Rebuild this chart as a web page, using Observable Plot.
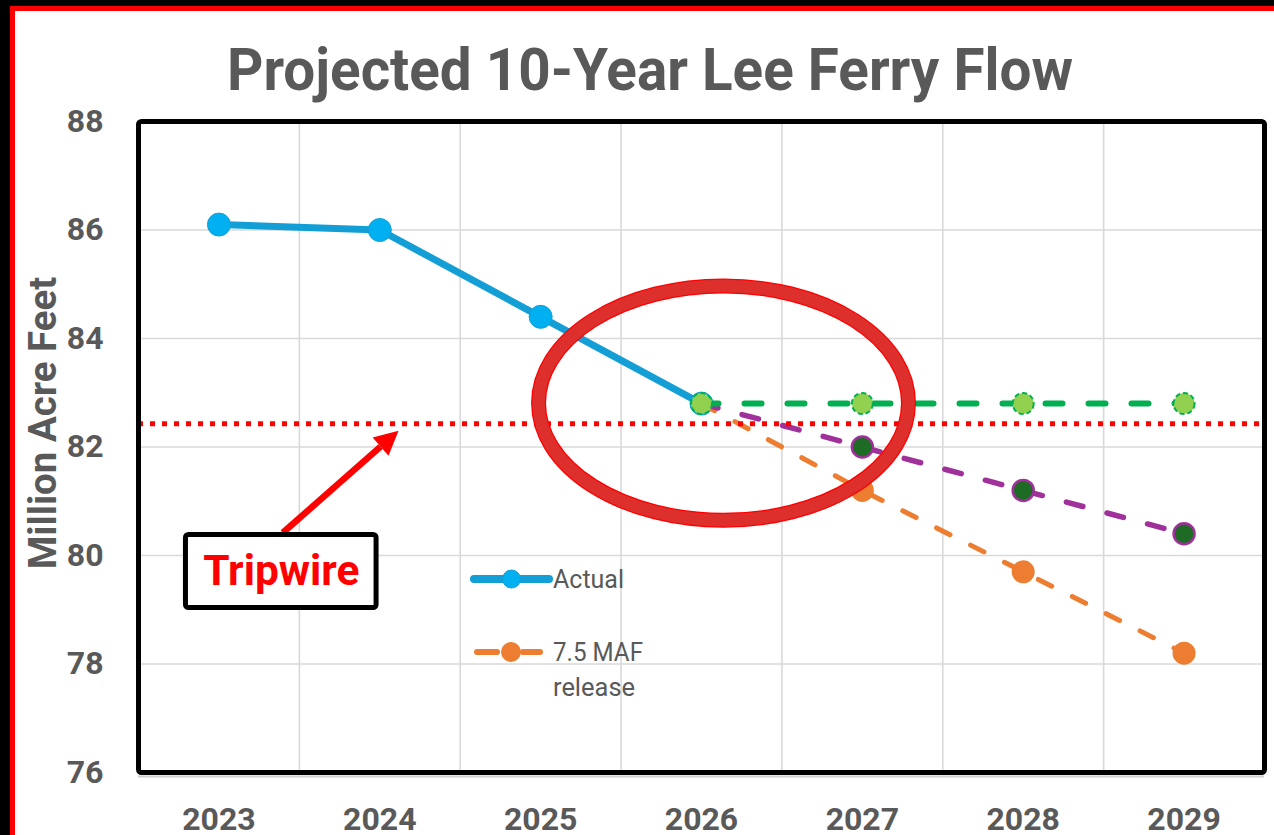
<!DOCTYPE html>
<html>
<head>
<meta charset="utf-8">
<script src="https://cdn.jsdelivr.net/npm/d3@7"></script>
<script src="https://cdn.jsdelivr.net/npm/@observablehq/plot@0.6"></script>
<style>
  html, body { margin: 0; padding: 0; background: #000; overflow: hidden; width: 1274px; height: 835px; }
  #page { position: absolute; left: 10px; top: 6px; width: 1300px; height: 900px; background: #fff;
          border-left: 5px solid #ff0000; border-top: 5px solid #ff0000; }
  #title { position: absolute; left: 0; top: 0; }
  #chart { position: absolute; left: 0; top: 100px; }
  #legend { position: absolute; left: 0; top: 0; pointer-events: none; }
  .lg { font-family: Roboto, sans-serif; font-size: 25px; fill: #595959; }
</style>
</head>
<body>
<div id="page"></div>
<svg id="title" width="1274" height="110">
  <text x="227" y="90" textLength="846" lengthAdjust="spacingAndGlyphs"
        style="font-family: Roboto, sans-serif; font-weight: 700; font-size: 60px; fill: #595959;">Projected 10-Year Lee Ferry Flow</text>
</svg>
<div id="chart"></div>
<svg id="legend" width="1274" height="835">
  <line x1="474" y1="579" x2="549" y2="579" stroke="#139fd6" stroke-width="8" stroke-linecap="round"/>
  <circle cx="511.5" cy="579" r="9" fill="#00b0f0" stroke="#139fd6" stroke-width="1"/>
  <text class="lg" x="553" y="579" dy="0.36em">Actual</text>
  <line x1="477" y1="652" x2="540" y2="652" stroke="#ed7d31" stroke-width="6" stroke-linecap="round" stroke-dasharray="20,26"/>
  <circle cx="511" cy="652" r="10" fill="#ed7d31"/>
  <text class="lg" x="553" y="652" dy="0.36em" textLength="90" lengthAdjust="spacingAndGlyphs">7.5 MAF</text>
  <text class="lg" x="553" y="687" dy="0.36em" textLength="82" lengthAdjust="spacingAndGlyphs">release</text>
</svg>
<script>
// ---- data ----
const years = [2023, 2024, 2025, 2026, 2027, 2028, 2029];
const yTicks = [76, 78, 80, 82, 84, 86, 88];
const gridYears = [2023.5, 2024.5, 2025.5, 2026.5, 2027.5, 2028.5];

const actualYears = [2023, 2024, 2025, 2026];
const actualValues = [86.1, 86.0, 84.4, 82.8];

const projYears = [2026, 2027, 2028, 2029];
const greenValues = [82.8, 82.8, 82.8, 82.8];
const purpleValues = [82.8, 82.0, 81.2, 80.4];
const orangeValues = [82.8, 81.2, 79.7, 78.2];

const tripwireValue = 82.43;

// annotation geometry in data units
const ellipseCenter = [2026.14, 82.80];
const ellipseRadii = [1.15, 2.16];
const arrowFrom = [2023.40, 80.41];
const arrowTo = [2024.12, 82.29];
const boxX = [2022.795, 2023.98];
const boxY = [79.032, 80.378];
const boxLabel = "Tripwire";
const yLabel = "Million Acre Feet";

// ---- tables ----
const actual = actualYears.map((x, i) => ({x, y: actualValues[i]}));
const green = projYears.map((x, i) => ({x, y: greenValues[i]}));
const purple = projYears.map((x, i) => ({x, y: purpleValues[i]}));
const orange = projYears.map((x, i) => ({x, y: orangeValues[i]}));

const grey = "#595959";

const ellipseMark = (index, scales) => {
  const g = d3.create("svg:g");
  const cx = scales.x(ellipseCenter[0]), cy = scales.y(ellipseCenter[1]);
  const rx = scales.x(ellipseCenter[0] + ellipseRadii[0]) - cx;
  const ry = cy - scales.y(ellipseCenter[1] + ellipseRadii[1]);
  g.append("ellipse").attr("cx", cx).attr("cy", cy).attr("rx", rx).attr("ry", ry)
    .attr("fill", "none").attr("stroke", "#ff0000").attr("stroke-width", 15);
  g.append("ellipse").attr("cx", cx).attr("cy", cy).attr("rx", rx).attr("ry", ry)
    .attr("fill", "none").attr("stroke", "#dd2f2c").attr("stroke-width", 12.5);
  return g.node();
};

const arrowMark = (index, scales) => {
  const g = d3.create("svg:g");
  const x1 = scales.x(arrowFrom[0]), y1 = scales.y(arrowFrom[1]);
  const x2 = scales.x(arrowTo[0]), y2 = scales.y(arrowTo[1]);
  const a = Math.atan2(y2 - y1, x2 - x1);
  const hl = 24, hw = 12;
  const bx = x2 - hl * Math.cos(a), by = y2 - hl * Math.sin(a);
  g.append("line").attr("x1", x1).attr("y1", y1).attr("x2", bx).attr("y2", by)
    .attr("stroke", "#ff0000").attr("stroke-width", 6.5);
  const px = -Math.sin(a), py = Math.cos(a);
  g.append("polygon")
    .attr("points", [[x2, y2], [bx + hw * px, by + hw * py], [bx - hw * px, by - hw * py]].map(p => p.join(",")).join(" "))
    .attr("fill", "#ff0000");
  return g.node();
};

const chart = Plot.plot({
  width: 1274,
  height: 735,
  marginLeft: 138,
  marginRight: 10,
  marginTop: 21,
  marginBottom: 63,
  style: {background: "transparent", color: grey, fontFamily: "Roboto, sans-serif", overflow: "visible"},
  x: {domain: [2022.5, 2029.5]},
  y: {domain: [76, 88]},
  marks: [
    Plot.gridY(yTicks, {stroke: "#d9d9d9", strokeOpacity: 1, strokeWidth: 1.6}),
    Plot.gridX(gridYears, {stroke: "#d9d9d9", strokeOpacity: 1, strokeWidth: 1.6}),
    Plot.ruleY([76], {dy: 4, stroke: "#d0d0d0", strokeWidth: 2}),
    Plot.axisY({ticks: yTicks, tickSize: 0, tickPadding: 35, fontSize: 32, fontWeight: "bold", label: null}),
    Plot.axisX({ticks: years, tickFormat: d => String(d), tickSize: 0, tickPadding: 35, fontSize: 32, fontWeight: "bold", label: null}),
    Plot.text([yLabel], {frameAnchor: "left", dx: -94.5, dy: -24, rotate: -90, fontSize: 38.5, fontWeight: "bold", fill: grey, textAnchor: "middle", lineAnchor: "middle"}),
    // Actual
    Plot.line(actual, {x: "x", y: "y", stroke: "#139fd6", strokeWidth: 7}),
    Plot.dot(actual, {x: "x", y: "y", r: 11.5, fill: "#00b0f0", stroke: "#139fd6", strokeWidth: 1}),
    // 7.5 MAF release
    Plot.line(orange, {x: "x", y: "y", stroke: "#ed7d31", strokeWidth: 5, strokeDasharray: "15,23", strokeLinecap: "round"}),
    Plot.dot(orange.slice(1), {x: "x", y: "y", r: 11.5, fill: "#ed7d31"}),
    // purple scenario
    Plot.line(purple, {x: "x", y: "y", stroke: "#a0309a", strokeWidth: 5.5, strokeDasharray: "17,25", strokeLinecap: "round"}),
    Plot.dot(purple.slice(1), {x: "x", y: "y", r: 10.5, fill: "#1d6b25", stroke: "#a0309a", strokeWidth: 2.5}),
    // green scenario
    Plot.line(green, {x: "x", y: "y", stroke: "#00b050", strokeWidth: 6, strokeDasharray: "17,26", strokeLinecap: "round"}),
    Plot.dot(green, {x: "x", y: "y", r: 10.5, fill: "#92d050", stroke: "#00b050", strokeWidth: 2, strokeDasharray: "5,3"}),
    // tripwire
    Plot.ruleY([tripwireValue], {stroke: "#ff0000", strokeWidth: 5, strokeDasharray: "5,7"}),
    ellipseMark,
    // Tripwire annotation
    arrowMark,
    Plot.rect([0], {x1: boxX[0], x2: boxX[1], y1: boxY[0], y2: boxY[1], fill: "white", stroke: "black", strokeWidth: 5, rx: 3}),
    Plot.text([boxLabel], {x: (boxX[0] + boxX[1]) / 2, y: (boxY[0] + boxY[1]) / 2, fill: "#ff0000", fontSize: 42.5, fontWeight: "bold", textAnchor: "middle", lineAnchor: "middle"}),
    Plot.frame({stroke: "black", strokeWidth: 5, rx: 3})
  ]
});
document.getElementById("chart").appendChild(chart);
</script>
</body>
</html>
